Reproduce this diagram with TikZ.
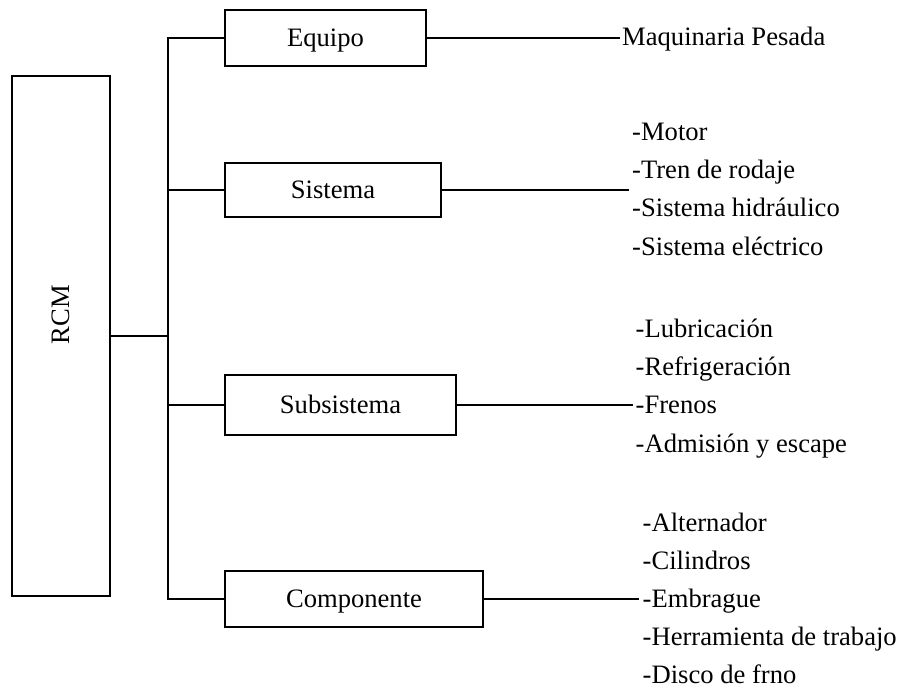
\documentclass[tikz,border=0pt]{standalone}
\usepackage{fontspec}
\setmainfont{Liberation Serif}
\begin{document}
\begin{tikzpicture}[x=1pt,y=-1pt,
  every node/.style={font=\fontsize{26.6}{32}\selectfont},
  box/.style={draw,line width=1.5pt,inner sep=0pt,text height=21.3pt,text depth=5.3pt},
  item/.style={anchor=base west,inner sep=0pt},
  link/.style={line width=1.5pt}]
\useasboundingbox (0,0) rectangle (901,688);

% main block and the four levels
\node[box,minimum width=98,minimum height=520] (rcm) at (61,336) {\rotatebox{90}{RCM}};
\node[box,minimum width=201,minimum height=56] (equipo) at (325.5,38) {Equipo};
\node[box,minimum width=216,minimum height=54] (sistema) at (333,190) {Sistema};
\node[box,minimum width=231,minimum height=60] (subsistema) at (340.5,405) {Subsistema};
\node[box,minimum width=258,minimum height=56] (componente) at (354,599) {Componente};

% branching trunk
\coordinate (jtop) at (168,38);
\coordinate (jbot) at (168,599);
\draw[link] (equipo.west) -- (jtop) -- (jbot) -- (componente.west);
\draw[link] (sistema.west) -- (sistema.west -| jtop);
\draw[link] (subsistema.west) -- (subsistema.west -| jtop);
\draw[link] (rcm.east) -- (rcm.east -| jtop);

% leaders to the item lists
\coordinate (eqend) at (620,38);
\coordinate (siend) at (629,190);
\coordinate (suend) at (633,405);
\coordinate (coend) at (639,599);
\draw[link] (equipo.east) -- (eqend);
\draw[link] (sistema.east) -- (siend);
\draw[link] (subsistema.east) -- (suend);
\draw[link] (componente.east) -- (coend);

% Equipo
\node[item] (eq1) at (622,45.5) {Maquinaria Pesada};

% Sistema
\node[item] (si1) at (632,140) {-Motor};
\node[item] (si2) at (632,178) {-Tren de rodaje};
\node[item] (si3) at (632,216.5) {-Sistema hidráulico};
\node[item] (si4) at (632,255) {-Sistema eléctrico};

% Subsistema
\node[item] (su1) at (635.5,337) {-Lubricación};
\node[item] (su2) at (635.5,375) {-Refrigeración};
\node[item] (su3) at (635.5,413) {-Frenos};
\node[item] (su4) at (635.5,452) {-Admisión y escape};

% Componente
\node[item] (co1) at (642.5,531) {-Alternador};
\node[item] (co2) at (642.5,569) {-Cilindros};
\node[item] (co3) at (642.5,607) {-Embrague};
\node[item] (co4) at (642.5,645.5) {-Herramienta de trabajo};
\node[item] (co5) at (642.5,683) {-Disco de frno};
\end{tikzpicture}
\end{document}
